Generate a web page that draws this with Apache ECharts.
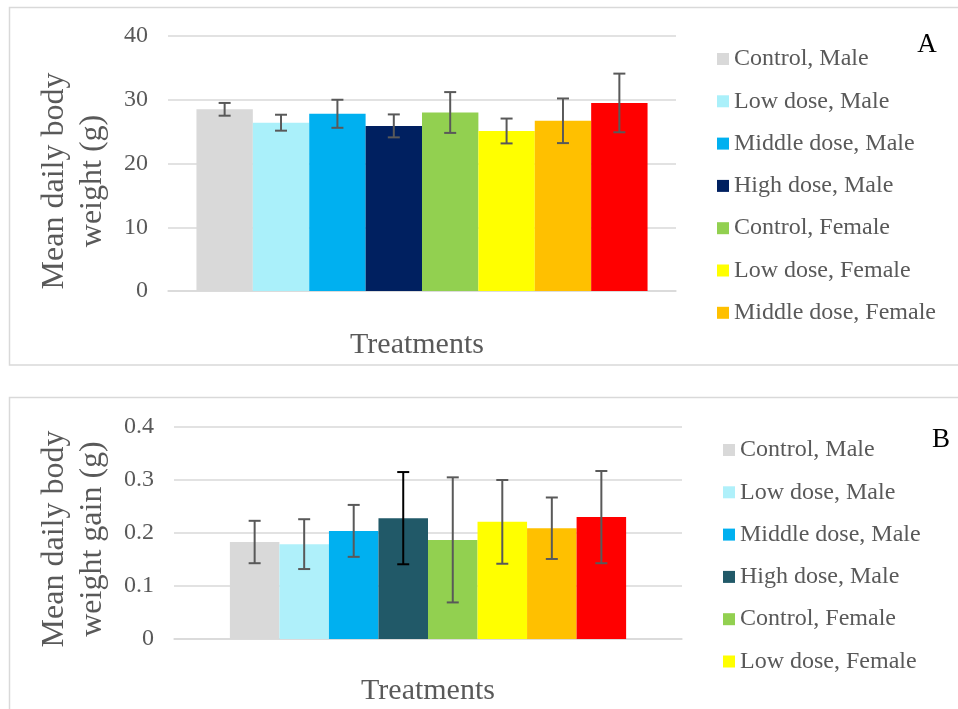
<!DOCTYPE html>
<html>
<head>
<meta charset="utf-8">
<script src="https://cdn.jsdelivr.net/npm/echarts@6/dist/echarts.min.js"></script>
<style>
html,body{margin:0;padding:0;background:#fff;}
#chart{width:958px;height:709px;}
</style>
</head>
<body>
<div id="chart"></div>
<script>
// ---- data ----
const seriesNames = ['Control, Male','Low dose, Male','Middle dose, Male','High dose, Male','Control, Female','Low dose, Female','Middle dose, Female','High dose, Female'];
const legendNamesA = seriesNames.slice(0, 7);
const legendNamesB = seriesNames.slice(0, 6);
const weightMean = [28.5, 26.4, 27.8, 25.9, 28.0, 25.1, 26.7, 29.5];
const weightErr  = [1.0, 1.25, 2.2, 1.8, 3.2, 1.95, 3.5, 4.6];
const gainMean = [0.183, 0.179, 0.204, 0.228, 0.187, 0.221, 0.209, 0.230];
const gainErr  = [0.040, 0.047, 0.049, 0.087, 0.118, 0.079, 0.058, 0.087];
const yTicksA = [0, 10, 20, 30, 40];
const yTicksB = [0, 0.1, 0.2, 0.3, 0.4];

// ---- styles ----
const colorsA = ['#D9D9D9','#AAF0FA','#00B0F0','#002060','#92D050','#FFFF00','#FFC000','#FF0000'];
const colorsB = ['#D9D9D9','#AFF0FA','#00B0F0','#215968','#92D050','#FFFF00','#FFC000','#FF0000'];
const errColorsA = ['#595959','#595959','#595959','#595959','#595959','#595959','#595959','#595959'];
const errColorsB = ['#595959','#595959','#595959','#000000','#595959','#595959','#595959','#595959'];
const gapA = 0.112, gapB = 0.22;
const FONT = 'Liberation Serif';
const TXT = '#595959';
const GRIDC = '#D9D9D9';

function makeErr(gap, colors, n) {
  return function (params, api) {
    const i = api.value(1), m = api.value(2), e = api.value(3);
    const c = api.coord([0, m]);
    const catW = api.size([1, 0])[0];
    const total = catW * (1 - gap);
    const bw = total / n;
    const x = c[0] - total / 2 + bw * (i + 0.5);
    const yHi = api.coord([0, m + e])[1];
    const yLo = api.coord([0, m - e])[1];
    const hw = 6;
    const st = { stroke: colors[i], lineWidth: 2 };
    return {
      type: 'group',
      children: [
        { type: 'line', shape: { x1: x, y1: yHi, x2: x, y2: yLo }, style: st },
        { type: 'line', shape: { x1: x - hw, y1: yHi, x2: x + hw, y2: yHi }, style: st },
        { type: 'line', shape: { x1: x - hw, y1: yLo, x2: x + hw, y2: yLo }, style: st }
      ]
    };
  };
}

const series = [];
seriesNames.forEach((name, i) => {
  series.push({
    name: name, type: 'bar', xAxisIndex: 0, yAxisIndex: 0,
    data: [weightMean[i]], barGap: '0%', barCategoryGap: (gapA * 100) + '%',
    itemStyle: { color: colorsA[i] }, emphasis: { disabled: true }, animation: false
  });
});
seriesNames.forEach((name, i) => {
  series.push({
    name: name, type: 'bar', xAxisIndex: 1, yAxisIndex: 1,
    data: [gainMean[i]], barGap: '0%', barCategoryGap: (gapB * 100) + '%',
    itemStyle: { color: colorsB[i] }, emphasis: { disabled: true }, animation: false
  });
});
series.push({
  type: 'custom', xAxisIndex: 0, yAxisIndex: 0, z: 5, animation: false,
  renderItem: makeErr(gapA, errColorsA, seriesNames.length),
  encode: { x: 0, y: 2 },
  data: weightMean.map((m, i) => [0, i, m, weightErr[i]])
});
series.push({
  type: 'custom', xAxisIndex: 1, yAxisIndex: 1, z: 5, animation: false,
  renderItem: makeErr(gapB, errColorsB, seriesNames.length),
  encode: { x: 0, y: 2 },
  data: gainMean.map((m, i) => [0, i, m, gainErr[i]])
});

function yAxis(idx, ticks, dec) {
  return {
    type: 'value', gridIndex: idx,
    min: ticks[0], max: ticks[ticks.length - 1], interval: ticks[1] - ticks[0],
    axisLine: { show: false }, axisTick: { show: false },
    axisLabel: { color: TXT, fontFamily: FONT, fontSize: 24, margin: 20,
      formatter: v => dec ? (v === 0 ? '0' : v.toFixed(1)) : String(v) },
    splitLine: { lineStyle: { color: GRIDC, width: 1.5 } }
  };
}
function xAxis(idx) {
  return {
    type: 'category', gridIndex: idx, data: [''],
    axisLine: { lineStyle: { color: GRIDC, width: 1.5 } },
    axisTick: { show: false }, axisLabel: { show: false }
  };
}
function legend(names, colors, left, top) {
  return {
    orient: 'vertical', left: left, top: top, padding: 0,
    icon: 'rect', itemWidth: 12, itemHeight: 12, itemGap: 18.3,
    textStyle: { color: TXT, fontFamily: FONT, fontSize: 24, lineHeight: 24 },
    data: names.map((n, i) => ({ name: n, itemStyle: { color: colors[i] } })),
    selectedMode: false
  };
}

const chart = echarts.init(document.getElementById('chart'), null, { renderer: 'canvas' });
chart.setOption({
  backgroundColor: '#fff',
  animation: false,
  grid: [
    { left: 168, top: 36, width: 508, height: 255 },
    { left: 174, top: 427, width: 508, height: 212 }
  ],
  xAxis: [xAxis(0), xAxis(1)],
  yAxis: [yAxis(0, yTicksA, false), yAxis(1, yTicksB, true)],
  legend: [legend(legendNamesA, colorsA, 717, 47), legend(legendNamesB, colorsB, 723, 438)],
  graphic: [
    { type: 'rect', shape: { x: 9.5, y: 7.5, width: 960, height: 357.5 }, style: { fill: 'none', stroke: GRIDC, lineWidth: 1.5 }, silent: true },
    { type: 'rect', shape: { x: 9.5, y: 397.5, width: 960, height: 400 }, style: { fill: 'none', stroke: GRIDC, lineWidth: 1.5 }, silent: true },
    { type: 'text', x: 74, y: 181, rotation: Math.PI / 2,
      style: { text: 'Mean daily body\nweight (g)', fill: TXT, font: '32px "Liberation Serif"', lineHeight: 38, align: 'center', verticalAlign: 'middle' } },
    { type: 'text', x: 74, y: 539, rotation: Math.PI / 2,
      style: { text: 'Mean daily body\nweight gain (g)', fill: TXT, font: '32px "Liberation Serif"', lineHeight: 38, align: 'center', verticalAlign: 'middle' } },
    { type: 'text', x: 417, y: 345,
      style: { text: 'Treatments', fill: TXT, font: '30px "Liberation Serif"', align: 'center', verticalAlign: 'middle' } },
    { type: 'text', x: 428, y: 691,
      style: { text: 'Treatments', fill: TXT, font: '30px "Liberation Serif"', align: 'center', verticalAlign: 'middle' } },
    { type: 'text', x: 927, y: 45,
      style: { text: 'A', fill: '#000', font: '27px "Liberation Serif"', align: 'center', verticalAlign: 'middle' } },
    { type: 'text', x: 941, y: 440,
      style: { text: 'B', fill: '#000', font: '27px "Liberation Serif"', align: 'center', verticalAlign: 'middle' } }
  ],
  series: series
});
</script>
</body>
</html>
